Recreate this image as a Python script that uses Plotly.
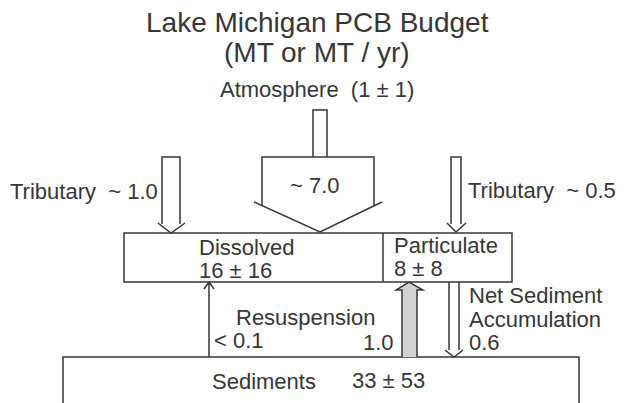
import plotly.graph_objects as go

# ---------------- data (text content of the budget diagram) ----------------
title_lines = ["Lake Michigan PCB Budget", "(MT or MT / yr)"]
compartments = ["Dissolved", "Particulate", "Sediments"]
compartment_values = ["16 ± 16", "8 ± 8", "33 ± 53"]
atmosphere_label = "Atmosphere"
atmosphere_value = "(1 ± 1)"
flow_names = ["Atmosphere", "Tributary", "Tributary", "Resuspension", "Resuspension",
              "Net Sediment Accumulation"]
flow_values = ["~ 7.0", "~ 1.0", "~ 0.5", "< 0.1", "1.0", "0.6"]

# ---------------- layout geometry (pixel space of the page) ----------------
W, H = 631, 403
OFF = 8  # default page body margin
INK = "#363636"
FONT = "Liberation Sans, Arial, sans-serif"

fig = go.Figure()
fig.add_trace(go.Scatter(x=[OFF, W + OFF], y=[OFF, H + OFF], mode="markers",
                         marker=dict(opacity=0), hoverinfo="skip", showlegend=False))

line = dict(color=INK, width=1.5)
shapes = []


def path(d, fill=None):
    s = dict(type="path", path=d, xref="x", yref="y", line=line, layer="above")
    if fill:
        s["fillcolor"] = fill
    shapes.append(s)


# atmosphere: narrow stem and wide arrow
path("M313,157 L313,110 L327,110 L327,157")
path("M262,205.5 L262,157 L374,157 L374,205.5")
path("M254,202 L320,232 L382,202")
# tributaries
path("M162,224 L162,157 L180,157 L180,224 M158,223 L171,233 L185,223")
path("M451,224 L451,157 L461,157 L461,224 M447,223 L456,232 L466,223")
# water column box
path("M124,233 L512,233 L512,282 L124,282 Z")
path("M383,233 L383,282")
# sediments box (runs off bottom)
path("M63,420 L63,357 L579,357 L579,420")
# resuspension to dissolved (thin)
path("M209,357 L209,283 M204,289 L209,282 L214,289")
# resuspension to particulate (shaded)
path("M402,357 L402,290 L396,290 L409,282 L423,290 L417,290 L417,357", fill="#d2d2d2")
# net sediment accumulation
path("M449,282 L449,350 M459,282 L459,350 M445,350 L454,357 L463,350")

ann = []


def text(t, x, y, size=22, xa="left"):
    ann.append(dict(text=t, x=x, y=y, xref="x", yref="y", showarrow=False,
                    xanchor=xa, yanchor="middle",
                    font=dict(family=FONT, size=size, color=INK)))


text(title_lines[0], 317, 22, size=28, xa="center")
text(title_lines[1], 317, 52, size=28, xa="center")
text(f"{atmosphere_label}  {atmosphere_value}", 317, 89, size=22, xa="center")
text(flow_values[0], 315, 185, size=22, xa="center")
text(f"{flow_names[1]}  {flow_values[1]}", 160, 191, size=22, xa="right")
text(f"{flow_names[2]}  {flow_values[2]}", 466, 190, size=22)
text(compartments[0], 197, 247, size=22)
text(compartment_values[0], 197, 270, size=22)
text(compartments[1], 392, 245, size=22)
text(compartment_values[1], 392, 268, size=22)
text(flow_names[3], 234, 317, size=22)
text(flow_values[3], 212, 340, size=22)
text(flow_values[4], 396, 342, size=22, xa="right")
nsa = flow_names[5].split(" ")
text(" ".join(nsa[:2]), 467, 295.5, size=22)
text(nsa[2], 467, 319, size=22)
text(flow_values[5], 467, 342.5, size=22)
text(compartments[2], 210, 381, size=22)
text(compartment_values[2], 350, 380, size=22)

fig.update_layout(
    width=W, height=H,
    margin=dict(l=0, r=0, t=0, b=0),
    paper_bgcolor="white", plot_bgcolor="white",
    xaxis=dict(range=[OFF, W + OFF], visible=False, fixedrange=True),
    yaxis=dict(range=[H + OFF, OFF], visible=False, fixedrange=True),
    shapes=shapes, annotations=ann, showlegend=False,
)

fig.write_html("out.html")
